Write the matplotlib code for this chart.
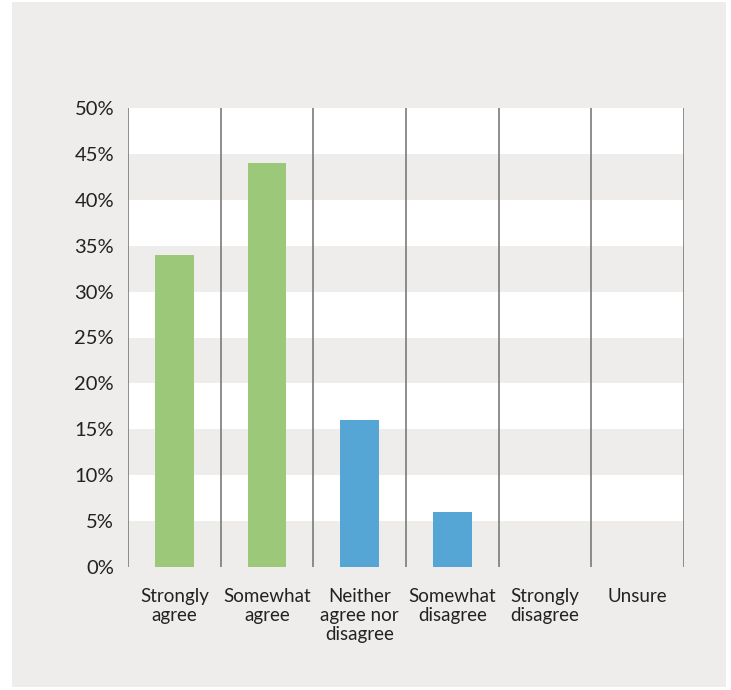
import matplotlib
matplotlib.use("Agg")
import matplotlib.pyplot as plt
from matplotlib.patches import Rectangle

# Dados
categories = ["Strongly\nagree", "Somewhat\nagree", "Neither\nagree nor\ndisagree",
              "Somewhat\ndisagree", "Strongly\ndisagree", "Unsure"]
values = [34, 44, 16, 6, 0, 0]
bar_colors = ["#9cc87a", "#9cc87a", "#55a5d5", "#55a5d5", "#55a5d5", "#55a5d5"]
yticks = [0, 5, 10, 15, 20, 25, 30, 35, 40, 45, 50]

panel = "#efedeb"
text_color = "#222222"

plt.rcParams["font.family"] = ["Lato", "DejaVu Sans"]

fig = plt.figure(figsize=(7.31, 6.90), dpi=100)
fig.patch.set_facecolor("white")

# Fundo cinza do painel
fig.patches.append(Rectangle((12 / 731, 3 / 690), 714 / 731, 685 / 690,
                             transform=fig.transFigure, facecolor=panel,
                             edgecolor="none", zorder=-10))

ax = fig.add_axes([128 / 731, 123 / 690, 556 / 731, 459 / 690])
ax.set_facecolor("white")

# Faixas horizontais alternadas
for lo in range(0, 50, 10):
    ax.axhspan(lo, lo + 5, color=panel, lw=0, zorder=0)

x = list(range(len(categories)))
ax.bar(x, values, width=0.42, color=bar_colors, zorder=2)

# Linhas verticais separando as categorias
for i in range(len(categories) + 1):
    ax.axvline(i - 0.5, color="#7a7a7a", lw=1.2, zorder=3)

ax.set_xlim(-0.5, len(categories) - 0.5)
ax.set_ylim(0, 50)
ax.set_yticks(yticks)
ax.set_yticklabels([f"{v}%" for v in yticks])
ax.set_xticks(x)
ax.set_xticklabels(categories, linespacing=1.15, va="top")

ax.tick_params(axis="y", length=0, pad=10, labelsize=14.5, labelcolor=text_color)
ax.tick_params(axis="x", length=0, pad=15, labelsize=13.5, labelcolor=text_color)

for s in ax.spines.values():
    s.set_visible(False)

plt.savefig("out.png", dpi=100)
